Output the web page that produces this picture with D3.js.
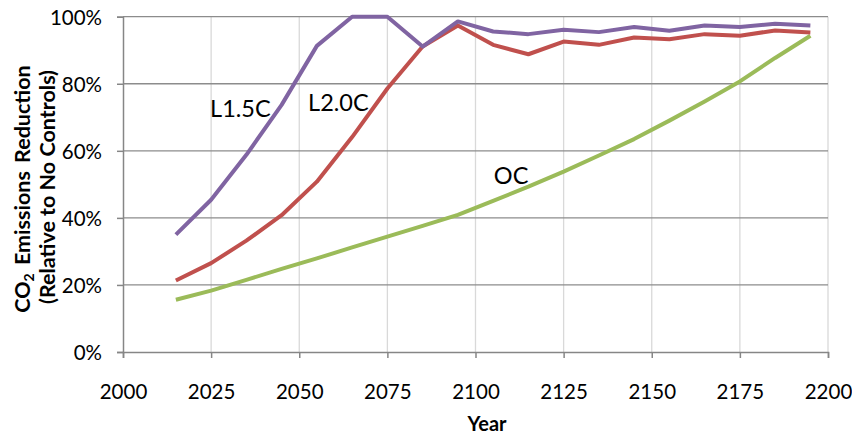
<!DOCTYPE html>
<html>
<head>
<meta charset="utf-8">
<script src="https://cdn.jsdelivr.net/npm/d3@7"></script>
<style>
  html, body { margin: 0; padding: 0; background: #fff; }
  svg { display: block; font-family: Lato, "Open Sans", sans-serif; }
</style>
</head>
<body>
<svg id="chart" width="852" height="434"></svg>
<script>
const years = [2015, 2025, 2035, 2045, 2055, 2065, 2075, 2085, 2095, 2105, 2115, 2125, 2135, 2145, 2155, 2165, 2175, 2185, 2195];
const l15c = [35, 45.4, 58.8, 73.7, 91.3, 100, 100, 91.1, 98.6, 95.6, 94.8, 96.1, 95.4, 96.9, 95.8, 97.4, 96.9, 97.9, 97.4];
const l20c = [21.3, 26.5, 33.2, 40.8, 50.8, 64.1, 78.6, 91.1, 97.4, 91.6, 88.8, 92.6, 91.6, 93.8, 93.3, 94.8, 94.3, 95.9, 95.3];
const oc   = [15.6, 18.3, 21.5, 24.8, 27.9, 31.2, 34.4, 37.6, 40.9, 45.1, 49.3, 53.8, 58.6, 63.5, 69.0, 74.7, 80.7, 87.7, 94.3];
const seriesNames = ["L1.5C", "L2.0C", "OC"];
const seriesColors = ["#8064A2", "#C0504D", "#9BBB59"];
const xTicks = [2000, 2025, 2050, 2075, 2100, 2125, 2150, 2175, 2200];
const yTicks = [0, 20, 40, 60, 80, 100];
const xTitle = "Year";
const yTitle1 = ["CO", "2", " Emissions Reduction"];
const yTitle2 = "(Relative to No Controls)";

const svg = d3.select("#chart");
const x = d3.scaleLinear().domain([2000, 2200]).range([123, 828]);
const y = d3.scaleLinear().domain([0, 100]).range([352, 16.7]);

// vertical gridlines (light)
svg.append("g").selectAll("line").data(xTicks.slice(1)).join("line")
  .attr("x1", d => x(d)).attr("x2", d => x(d))
  .attr("y1", y(100)).attr("y2", y(0))
  .attr("stroke", "#d9d9d9").attr("stroke-width", 1.3);

// horizontal gridlines (dark)
svg.append("g").selectAll("line").data(yTicks.slice(1)).join("line")
  .attr("x1", x(2000)).attr("x2", x(2200))
  .attr("y1", d => y(d)).attr("y2", d => y(d))
  .attr("stroke", "#8c8c8c").attr("stroke-width", 1.3);

// y axis
const yAxis = svg.append("g").attr("transform", `translate(${x(2000)},0)`)
  .call(d3.axisLeft(y).tickValues(yTicks).tickFormat(d => d + "%").tickSize(6).tickPadding(15));
yAxis.select(".domain").attr("stroke", "#868686").attr("stroke-width", 1.5);
yAxis.selectAll(".tick line").attr("stroke", "#868686").attr("stroke-width", 1.5);
yAxis.selectAll(".tick text").attr("font-family", "Lato, sans-serif").attr("font-size", 20.5).attr("fill", "#000").attr("dy", "0.36em");

// x axis
const xAxis = svg.append("g").attr("transform", `translate(0,${y(0)})`)
  .call(d3.axisBottom(x).tickValues(xTicks).tickFormat(d3.format("d")).tickSize(6).tickPadding(26));
xAxis.select(".domain").attr("stroke", "#868686").attr("stroke-width", 1.5);
xAxis.selectAll(".tick line").attr("stroke", "#868686").attr("stroke-width", 1.5);
xAxis.selectAll(".tick text").attr("font-family", "Lato, sans-serif").attr("font-size", 20.5).attr("fill", "#000");

// lines
const allSeries = [l15c, l20c, oc];
const line = d3.line().x((d, i) => x(years[i])).y(d => y(d));
[2, 1, 0].forEach(k => {
  svg.append("path").datum(allSeries[k])
    .attr("d", line)
    .attr("fill", "none")
    .attr("stroke", seriesColors[k])
    .attr("stroke-width", 4)
    .attr("stroke-linejoin", "round");
});

// series labels (anchor year / percent for the label baseline start)
const labelPos = [[2024.7, 70.2], [2052.5, 72.0], [2105.2, 50.1]];
svg.append("g").selectAll("text").data(seriesNames).join("text")
  .attr("x", (d, i) => x(labelPos[i][0]))
  .attr("y", (d, i) => y(labelPos[i][1]))
  .attr("font-size", 23.5).attr("fill", "#000")
  .text(d => d);

// x title
svg.append("text").attr("x", 487).attr("y", 431)
  .attr("text-anchor", "middle").attr("font-weight", "bold").attr("font-size", 20)
  .text(xTitle);

// y title
const yt = svg.append("text").attr("transform", "translate(30,189) rotate(-90)")
  .attr("text-anchor", "middle").attr("font-weight", "bold").attr("font-size", 21.5)
  .attr("word-spacing", 3);
yt.append("tspan").text(yTitle1[0]);
yt.append("tspan").attr("font-size", 14).attr("dy", 4).text(yTitle1[1]);
yt.append("tspan").attr("dy", -4).text(yTitle1[2]);
svg.append("text").attr("transform", "translate(55,187) rotate(-90)")
  .attr("text-anchor", "middle").attr("font-weight", "bold").attr("font-size", 21.5)
  .text(yTitle2);
</script>
</body>
</html>
